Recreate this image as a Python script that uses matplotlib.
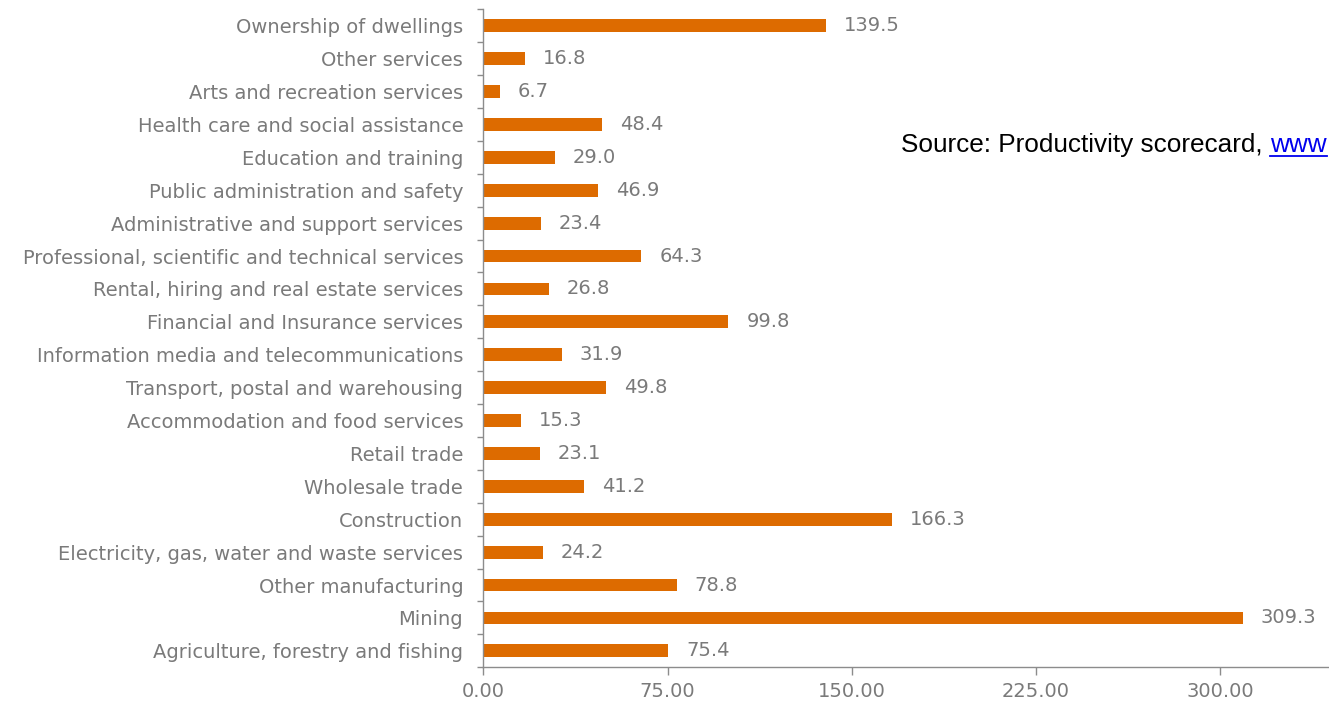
import matplotlib
matplotlib.use("Agg")
import matplotlib.pyplot as plt
from matplotlib.lines import Line2D
import numpy as np

categories = [
    "Agriculture, forestry and fishing",
    "Mining",
    "Other manufacturing",
    "Electricity, gas, water and waste services",
    "Construction",
    "Wholesale trade",
    "Retail trade",
    "Accommodation and food services",
    "Transport, postal and warehousing",
    "Information media and telecommunications",
    "Financial and Insurance services",
    "Rental, hiring and real estate services",
    "Professional, scientific and technical services",
    "Administrative and support services",
    "Public administration and safety",
    "Education and training",
    "Health care and social assistance",
    "Arts and recreation services",
    "Other services",
    "Ownership of dwellings",
]
values = [75.4, 309.3, 78.8, 24.2, 166.3, 41.2, 23.1, 15.3, 49.8, 31.9,
          99.8, 26.8, 64.3, 23.4, 46.9, 29.0, 48.4, 6.7, 16.8, 139.5]
xticks = [0, 75, 150, 225, 300]
xtick_labels = ["0.00", "75.00", "150.00", "225.00", "300.00"]
source_text = "Source: Productivity scorecard, "
source_link = "www"

W, H = 1329, 706
fig = plt.figure(figsize=(W / 100, H / 100), dpi=100)
fig.patch.set_facecolor("white")

bar_color = "#DD6B00"
text_color = "#7A7A7A"
axis_color = "#8C8C8C"
font = "DejaVu Sans"
fs = 14

left_px, right_val, px_per_unit = 483.3, 375, 2.456
ax = fig.add_axes([left_px / W, (H - 667.3) / H,
                   right_val * px_per_unit / W, (667.3 - 9.3) / H])

y = np.arange(len(categories))
ax.barh(y, values, height=0.39, color=bar_color, edgecolor="none", zorder=2)
ax.set_xlim(0, right_val)
ax.set_ylim(-0.5, len(categories) - 0.5)

for yi, v in zip(y, values):
    ax.annotate(f"{v:.1f}", xy=(v, yi), xytext=(18, 0), textcoords="offset pixels",
                va="center", ha="left", color=text_color, fontsize=fs, family=font)

ax.set_yticks(y)
ax.set_yticklabels(categories, fontsize=fs, color=text_color, family=font)
ax.set_yticks(np.arange(-0.5, len(categories)), minor=True)
ax.tick_params(axis="y", which="major", length=0, pad=14.5)
ax.tick_params(axis="y", which="minor", length=4.5, width=1, color=axis_color, direction="out")

ax.set_xticks(xticks)
ax.set_xticklabels(xtick_labels, fontsize=fs, color=text_color, family=font)
ax.tick_params(axis="x", which="major", length=5.5, width=1, color=axis_color, direction="out", pad=5)

for s in ["top", "right"]:
    ax.spines[s].set_visible(False)
for s in ["left", "bottom"]:
    ax.spines[s].set_color(axis_color)
    ax.spines[s].set_linewidth(1)
ax.set_facecolor("none")

# Source note
base_px = 152
base_y = 1 - base_px / H
t1 = fig.text(901 / W, base_y, source_text, fontsize=18.8, family="Liberation Sans",
              color="black", va="baseline", ha="left")
fig.canvas.draw()
r = fig.canvas.get_renderer()
bb = t1.get_window_extent(renderer=r)
t2 = fig.text(bb.x1 / W, base_y, source_link, fontsize=18.8, family="Liberation Sans",
              color="#0000EE", va="baseline", ha="left")
bb2 = t2.get_window_extent(renderer=r)
uy = base_px + 3.5
fig.add_artist(Line2D([bb2.x0 / W, bb2.x1 / W], [1 - uy / H, 1 - uy / H], color="#0000EE",
                      lw=1.3, transform=fig.transFigure))

fig.savefig("out.png", dpi=100)
